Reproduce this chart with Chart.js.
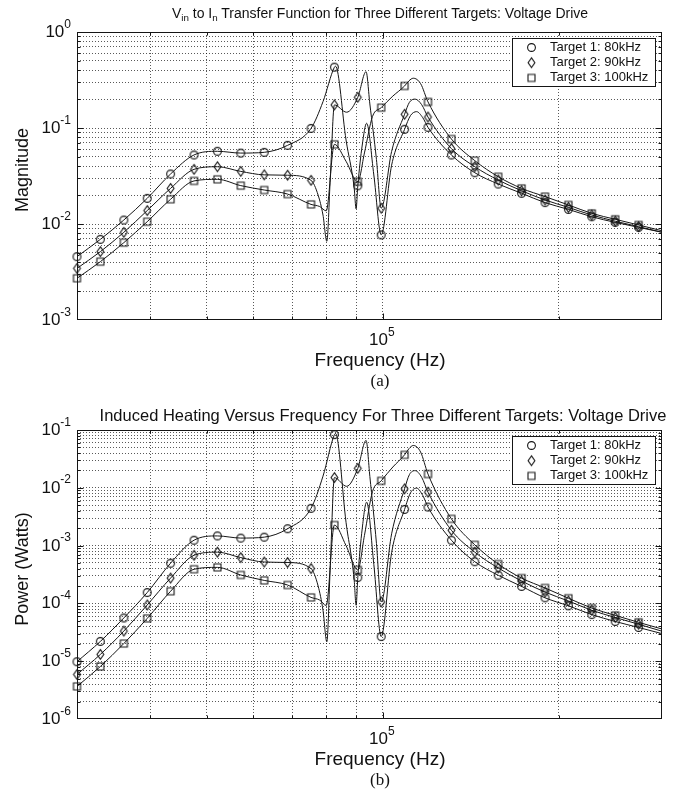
<!DOCTYPE html>
<html>
<head>
<meta charset="utf-8">
<script src="https://cdn.jsdelivr.net/npm/chart.js@4.4.0/dist/chart.umd.min.js"></script>
<style>
body { margin: 0; background: #fff; }
#fig { position: relative; width: 673px; height: 801px; overflow: hidden; font-family: "Liberation Sans", Arial, sans-serif; color: #111; }
#fig canvas { position: absolute; left: 0; }
.lbl { position: absolute; transform: translateX(-50%); white-space: nowrap; line-height: 1; }
.lbl sub { font-size: 70%; vertical-align: -0.3em; line-height: 0; }
.cap { font-family: "Liberation Serif", "Times New Roman", serif; font-size: 17px; }
.ylab { position: absolute; left: 22px; transform: translate(-50%, -50%) rotate(-90deg); white-space: nowrap; font-size: 18px; line-height: 1; }
</style>
</head>
<body>
<div id="fig">
  <canvas id="magChart" width="673" height="400" style="top:0"></canvas>
  <canvas id="powChart" width="673" height="401" style="top:400px"></canvas>
  <div class="lbl" style="left:380px;top:6px;font-size:14px">V<sub>in</sub> to I<sub>n</sub> Transfer Function for Three Different Targets: Voltage Drive</div>
  <div class="lbl" style="left:380px;top:350px;font-size:19px">Frequency (Hz)</div>
  <div class="lbl cap" style="left:380px;top:372px">(a)</div>
  <div class="lbl" style="left:383px;top:407px;font-size:16.5px">Induced Heating Versus Frequency For Three Different Targets: Voltage Drive</div>
  <div class="lbl" style="left:380px;top:749px;font-size:19px">Frequency (Hz)</div>
  <div class="lbl cap" style="left:380px;top:771px">(b)</div>
  <div class="ylab" style="top:170px">Magnitude</div>
  <div class="ylab" style="top:569px">Power (Watts)</div>
</div>
<script>
// marker frequencies (Hz), same for all three targets
const freqs = [30000, 32890, 36070, 39550, 43360, 47550, 52130, 57160, 62680, 68730, 75360, 82630,
  90600, 99340, 108920, 119430, 130960, 143590, 157440, 172630, 189290, 207550, 227570, 249530, 273600];

// (a) magnitude at the markers
const magT1 = [0.00457, 0.00692, 0.0110, 0.0185, 0.0332, 0.0524, 0.0572, 0.0548, 0.0558, 0.066, 0.099, 0.43,
  0.025, 0.0077, 0.097, 0.1016, 0.0524, 0.0342, 0.0261, 0.0209, 0.0167, 0.0142, 0.0119, 0.0104, 0.00923];
const magT2 = [0.00345, 0.00515, 0.00819, 0.0138, 0.0235, 0.0371, 0.0395, 0.0353, 0.0325, 0.0322, 0.0285, 0.174,
  0.209, 0.0146, 0.139, 0.13, 0.061, 0.0395, 0.0287, 0.0222, 0.0178, 0.0149, 0.0124, 0.0107, 0.00938];
const magT3 = [0.00272, 0.00405, 0.00639, 0.01057, 0.0181, 0.0281, 0.0292, 0.0251, 0.0226, 0.0205, 0.0160, 0.0676,
  0.0276, 0.163, 0.274, 0.187, 0.0768, 0.0457, 0.0311, 0.0235, 0.0193, 0.0158, 0.0129, 0.0112, 0.00977];

// (b) power (W) at the markers
const powT1 = [9.8e-6, 2.2e-5, 5.6e-5, 1.54e-4, 4.96e-4, 1.24e-3, 1.47e-3, 1.35e-3, 1.40e-3, 1.96e-3, 4.41e-3, 0.0832,
  2.8e-4, 2.67e-5, 4.23e-3, 4.65e-3, 1.24e-3, 5.26e-4, 3.07e-4, 1.97e-4, 1.25e-4, 9.1e-5, 6.4e-5, 4.87e-5, 3.83e-5];
const powT2 = [5.9e-6, 1.31e-5, 3.32e-5, 9.4e-5, 2.74e-4, 6.8e-4, 7.7e-4, 6.2e-4, 5.2e-4, 5.1e-4, 4.0e-4, 0.0150,
  0.0217, 1.06e-4, 9.6e-3, 8.4e-3, 1.84e-3, 7.7e-4, 4.1e-4, 2.44e-4, 1.57e-4, 1.1e-4, 7.6e-5, 5.7e-5, 4.36e-5];
const powT3 = [3.66e-6, 8.1e-6, 2.02e-5, 5.5e-5, 1.62e-4, 3.9e-4, 4.2e-4, 3.1e-4, 2.5e-4, 2.08e-4, 1.27e-4, 2.27e-3,
  3.8e-4, 0.0132, 0.0372, 0.0173, 2.9e-3, 1.03e-3, 4.8e-4, 2.74e-4, 1.85e-4, 1.23e-4, 8.3e-5, 6.2e-5, 4.7e-5];

// extra curve points between markers (peaks, notches, right end)
const bendFreqT1 = [79000, 83000, 86500, 89300, 90000, 92200, 93800, 96500, 103500, 111500, 114200, 117000, 300000];
const bendMagT1 = [0.188, 0.44, 0.075, 0.024, 0.0144, 0.0665, 0.112, 0.0324, 0.041, 0.135, 0.148, 0.128, 0.0082];
const bendPowT1 = [0.0159, 0.0871, 2.53e-3, 2.6e-4, 9.3e-5, 1.99e-3, 5.64e-3, 4.72e-4, 7.56e-4, 8.2e-3, 9.86e-3, 7.37e-3, 3.0e-5];

const bendFreqT2 = [77500, 79000, 80200, 81300, 86700, 93600, 95000, 97500, 103500, 111000, 113500, 116500, 300000];
const bendMagT2 = [0.020, 0.0124, 0.0066, 0.030, 0.146, 0.386, 0.178, 0.047, 0.057, 0.185, 0.2, 0.175, 0.0082];
const bendPowT2 = [2.0e-4, 7.6e-5, 2.16e-5, 4.5e-4, 0.0106, 0.066, 0.0157, 1.09e-3, 1.6e-3, 0.0169, 0.0198, 0.0152, 3.3e-5];

const bendFreqT3 = [78000, 80000, 86500, 93000, 96000, 104000, 110800, 112700, 116000, 300000];
const bendMagT3 = [0.0152, 0.0137, 0.045, 0.055, 0.132, 0.215, 0.31, 0.33, 0.29, 0.0085];
const bendPowT3 = [1.14e-4, 9.2e-5, 1.0e-3, 1.5e-3, 8.6e-3, 0.0229, 0.0475, 0.054, 0.0416, 3.6e-5];

const names = ['Target 1: 80kHz', 'Target 2: 90kHz', 'Target 3: 100kHz'];
const xGrid = [40000, 50000, 60000, 70000, 80000, 90000, 100000, 200000];
const magDecades = [1e-3, 1e-2, 1e-1, 1];
const powDecades = [1e-6, 1e-5, 1e-4, 1e-3, 1e-2, 1e-1];

const INK = '#151515';
const FONT = '"Liberation Sans", Arial, sans-serif';

function makeMarker(shape) {
  const c = document.createElement('canvas');
  c.width = 13; c.height = 13;
  const g = c.getContext('2d');
  g.strokeStyle = INK; g.lineWidth = 1.1;
  g.beginPath();
  if (shape == 'circle') g.arc(6.5, 6.5, 3.9, 0, Math.PI * 2);
  else if (shape == 'square') g.rect(3, 3, 7, 7);
  else { g.moveTo(6.5, 1.6); g.lineTo(9.9, 6.5); g.lineTo(6.5, 11.4); g.lineTo(3.1, 6.5); g.closePath(); }
  g.stroke();
  return c;
}
const markers = ['circle', 'diamond', 'square'].map(makeMarker);

// grid positions 2..9 x each decade plus interior decades
function logGrid(decades) {
  let out = [];
  for (let i = 0; i < decades.length - 1; i++) {
    if (i > 0) out.push(decades[i]);
    for (let m = 2; m <= 9; m++) out.push(m * decades[i]);
  }
  return out;
}

function isDecade(v) {
  let e = Math.log10(v);
  return Math.abs(e - Math.round(e)) < 1e-6;
}

function curve(vals, bf, bv) {
  let pts = freqs.map((f, i) => ({x: f, y: vals[i]}));
  bf.forEach((f, i) => pts.push({x: f, y: bv[i]}));
  return pts.sort((a, b) => a.x - b.x);
}

function drawPow(ctx, exp, x, y, mode) {
  ctx.font = '17px ' + FONT;
  let wb = ctx.measureText('10').width;
  ctx.font = '12px ' + FONT;
  let we = ctx.measureText(String(exp)).width;
  let left = mode == 'right' ? x - wb - we : x - (wb + we) / 2;
  ctx.textAlign = 'left';
  ctx.textBaseline = 'alphabetic';
  ctx.font = '17px ' + FONT;
  ctx.fillText('10', left, y + 5);
  ctx.font = '12px ' + FONT;
  ctx.fillText(String(exp), left + wb, y - 4.5);
}

const frame = {
  id: 'frame',
  afterDraw(chart, args, o) {
    const {ctx, chartArea: a} = chart;
    const xs = chart.scales.x, ys = chart.scales.y;
    const L = Math.round(a.left) + 0.5, R = Math.round(a.right) - 0.5;
    const T = Math.round(a.top) + 0.5, B = Math.round(a.bottom) - 0.5;
    ctx.save();
    ctx.strokeStyle = INK;
    ctx.lineWidth = 1;
    ctx.strokeRect(L, T, R - L, B - T);
    ctx.beginPath();
    ys.ticks.forEach(t => {
      let py = Math.round(ys.getPixelForValue(t.value)) + 0.5;
      let len = isDecade(t.value) ? 6 : 3;
      ctx.moveTo(L, py); ctx.lineTo(L + len, py);
      ctx.moveTo(R, py); ctx.lineTo(R - len, py);
    });
    xs.ticks.forEach(t => {
      let px = Math.round(xs.getPixelForValue(t.value)) + 0.5;
      let len = isDecade(t.value) ? 6 : 3;
      ctx.moveTo(px, B); ctx.lineTo(px, B - len);
      ctx.moveTo(px, T); ctx.lineTo(px, T + len);
    });
    ctx.stroke();

    ctx.fillStyle = '#111';
    o.decades.forEach(v => drawPow(ctx, Math.round(Math.log10(v)), a.left - 6, ys.getPixelForValue(v), 'right'));
    drawPow(ctx, 5, xs.getPixelForValue(100000) - 1, a.bottom + 20, 'center');

    // legend box
    const bx = Math.round(a.right) - 150 + 0.5, by = Math.round(a.top) + 6 + 0.5;
    ctx.fillStyle = '#fff';
    ctx.fillRect(bx, by, 143, 48);
    ctx.strokeRect(bx, by, 143, 48);
    ctx.font = '13px ' + FONT;
    ctx.textBaseline = 'middle';
    ctx.textAlign = 'left';
    names.forEach((n, i) => {
      let my = by + 9 + i * 15.2;
      ctx.drawImage(markers[i], bx + 19 - 6.5, my - 6.5);
      ctx.fillStyle = '#111';
      ctx.fillText(n, bx + 37.5, my);
    });
    ctx.restore();
  }
};

function chartData(id, series, bends, decades, padTop, axisH) {
  const lines = series.map((vals, i) => ({
    data: curve(vals, bends[i][0], bends[i][1]),
    borderColor: INK,
    borderWidth: 1,
    pointRadius: 0,
    cubicInterpolationMode: 'monotone',
    fill: false,
    order: 2
  }));
  const marks = series.map((vals, i) => ({
    data: freqs.map((f, j) => ({x: f, y: vals[j]})),
    showLine: false,
    pointStyle: markers[i],
    pointRadius: 4,
    clip: false,
    order: 1
  }));
  const yGrid = logGrid(decades);

  return new Chart(document.getElementById(id), {
    type: 'line',
    data: {datasets: lines.concat(marks)},
    options: {
      responsive: false,
      animation: false,
      devicePixelRatio: 1,
      layout: {padding: {left: 0, right: 11, top: padTop, bottom: 0}},
      plugins: {
        legend: {display: false},
        tooltip: {enabled: false},
        frame: {decades: decades}
      },
      scales: {
        x: {
          type: 'logarithmic',
          min: 30000,
          max: 300000,
          afterBuildTicks: s => { s.ticks = xGrid.map(v => ({value: v})); },
          afterFit: s => { s.height = axisH; },
          ticks: {display: false},
          grid: {color: 'rgba(0,0,0,0.65)', lineWidth: 1, drawTicks: false},
          border: {display: false, dash: [1, 2]}
        },
        y: {
          type: 'logarithmic',
          min: decades[0],
          max: decades[decades.length - 1],
          afterBuildTicks: s => { s.ticks = yGrid.map(v => ({value: v})); },
          afterFit: s => { s.width = 77; },
          ticks: {display: false},
          grid: {color: 'rgba(0,0,0,0.65)', lineWidth: 1, drawTicks: false},
          border: {display: false, dash: [1, 2]}
        }
      }
    },
    plugins: [frame]
  });
}

chartData('magChart', [magT1, magT2, magT3],
  [[bendFreqT1, bendMagT1], [bendFreqT2, bendMagT2], [bendFreqT3, bendMagT3]],
  magDecades, 32, 80);

chartData('powChart', [powT1, powT2, powT3],
  [[bendFreqT1, bendPowT1], [bendFreqT2, bendPowT2], [bendFreqT3, bendPowT3]],
  powDecades, 30, 82);
</script>
</body>
</html>
